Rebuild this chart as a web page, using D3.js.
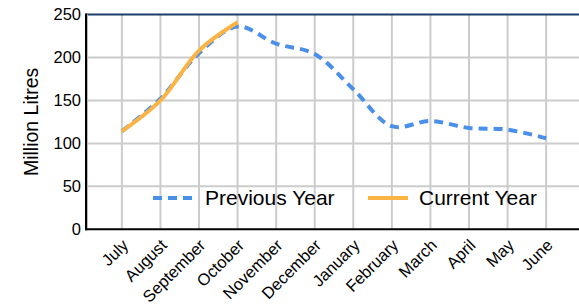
<!DOCTYPE html>
<html>
<head>
<meta charset="utf-8">
<script src="https://cdn.jsdelivr.net/npm/d3@7"></script>
<style>
  body { margin: 0; background: #fff; }
  text { font-family: Arial, "Liberation Sans", sans-serif; fill: #000; }
</style>
</head>
<body>
<div id="chart"></div>
<script>
const months = ['July', 'August', 'September', 'October', 'November', 'December',
  'January', 'February', 'March', 'April', 'May', 'June'];
const previousYear = [114, 152, 205, 236, 216, 204, 163, 120, 126, 118, 116, 106];
const currentYear = [114, 150, 208, 241];
const yTicks = [0, 50, 100, 150, 200, 250];
const seriesNames = ['Previous Year', 'Current Year'];

const width = 579, height = 304;
const plotLeft = 86, plotTop = 14.5, plotBottom = 229.3;

const svg = d3.select('#chart')
  .append('svg')
    .attr('width', width)
    .attr('height', height);

const x = d3.scalePoint()
  .domain(months)
  .range([plotLeft, 582])
  .padding(0.93);

const y = d3.scaleLinear()
  .domain([0, 250])
  .range([plotBottom, plotTop]);

// grid
svg.append('g')
  .selectAll('line')
  .data(months)
  .enter()
  .append('line')
    .attr('x1', d => x(d)).attr('x2', d => x(d))
    .attr('y1', plotTop).attr('y2', plotBottom)
    .attr('stroke', '#cccccc').attr('stroke-width', 2);

svg.append('g')
  .selectAll('line')
  .data(yTicks.slice(1, -1))
  .enter()
  .append('line')
    .attr('x1', plotLeft).attr('x2', width)
    .attr('y1', d => y(d)).attr('y2', d => y(d))
    .attr('stroke', '#cccccc').attr('stroke-width', 2);

// top border
svg.append('line')
  .attr('x1', plotLeft).attr('x2', width)
  .attr('y1', plotTop).attr('y2', plotTop)
  .attr('stroke', '#1f3c6e').attr('stroke-width', 2);

// y axis
const yAxis = svg.append('g')
  .attr('transform', 'translate(' + (plotLeft - 5) + ',0)')
  .call(d3.axisLeft(y).tickValues(yTicks).tickSize(0).tickPadding(0));
yAxis.select('.domain').remove();
yAxis.selectAll('text')
  .style('font-size', '16.5px')
  .style('font-family', 'Arial, "Liberation Sans", sans-serif')
  .attr('fill', '#000');

svg.append('text')
  .attr('transform', 'translate(38,' + ((plotTop + plotBottom) / 2) + ') rotate(-90)')
  .attr('text-anchor', 'middle')
  .style('font-size', '19.5px')
  .text('Million Litres');

// x axis labels
const xAxis = svg.append('g')
  .attr('transform', 'translate(0,' + plotBottom + ')')
  .call(d3.axisBottom(x).tickSize(0).tickPadding(0));
xAxis.select('.domain').remove();
xAxis.selectAll('text')
  .style('font-size', '16.5px')
  .style('font-family', 'Arial, "Liberation Sans", sans-serif')
  .attr('fill', '#000')
  .attr('text-anchor', 'end')
  .attr('dy', 0)
  .attr('transform', 'translate(7,17) rotate(-45)');

// axis lines
svg.append('line')
  .attr('x1', plotLeft + 1.5).attr('x2', plotLeft + 1.5)
  .attr('y1', plotTop).attr('y2', plotBottom + 1)
  .attr('stroke', '#bbbbbb').attr('stroke-width', 1);
svg.append('line')
  .attr('x1', plotLeft).attr('x2', plotLeft)
  .attr('y1', plotTop - 1).attr('y2', plotBottom + 1)
  .attr('stroke', '#000').attr('stroke-width', 2);
svg.append('line')
  .attr('x1', plotLeft - 1).attr('x2', width)
  .attr('y1', plotBottom).attr('y2', plotBottom)
  .attr('stroke', '#000').attr('stroke-width', 2);

// lines
const line = d3.line()
  .x((d, i) => x(months[i]))
  .y(d => y(d))
  .curve(d3.curveCatmullRom.alpha(0.5));

svg.append('path')
  .datum(previousYear)
  .attr('fill', 'none')
  .attr('stroke', '#4a8fe8')
  .attr('stroke-width', 4)
  .attr('stroke-dasharray', '9,6')
  .attr('d', line);

svg.append('path')
  .datum(currentYear)
  .attr('fill', 'none')
  .attr('stroke', '#fbb444')
  .attr('stroke-width', 4)
  .attr('d', line);

// legend
const legendY = 198;
const legend = [
  { name: seriesNames[0], color: '#4a8fe8', dash: '9,6', x1: 153, x2: 193, tx: 205 },
  { name: seriesNames[1], color: '#fbb444', dash: null, x1: 368, x2: 408, tx: 419 }
];
legend.forEach(l => {
  svg.append('line')
    .attr('x1', l.x1).attr('x2', l.x2)
    .attr('y1', legendY).attr('y2', legendY)
    .attr('stroke', l.color).attr('stroke-width', 4)
    .attr('stroke-dasharray', l.dash);
  svg.append('text')
    .attr('x', l.tx).attr('y', legendY)
    .attr('dy', '0.35em')
    .style('font-size', '21px')
    .text(l.name);
});
</script>
</body>
</html>
